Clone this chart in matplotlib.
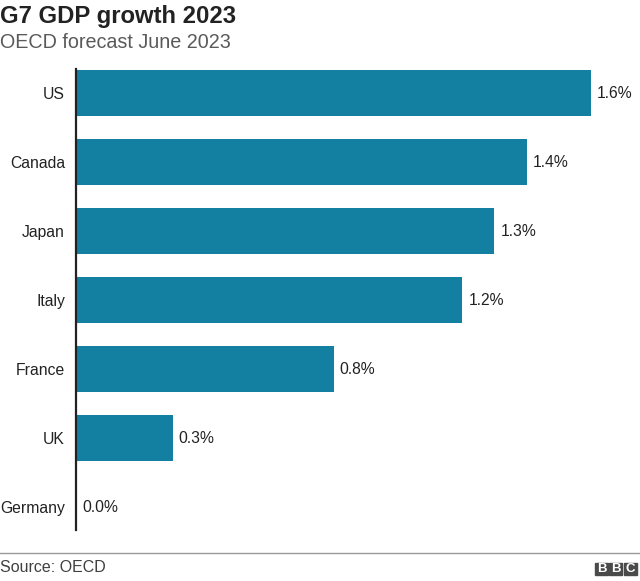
import matplotlib
matplotlib.use("Agg")
import matplotlib.pyplot as plt
from matplotlib.patches import Rectangle
from matplotlib.lines import Line2D

countries = ["US", "Canada", "Japan", "Italy", "France", "UK", "Germany"]
growth = [1.6, 1.4, 1.3, 1.2, 0.8, 0.3, 0.0]
value_labels = ["1.6%", "1.4%", "1.3%", "1.2%", "0.8%", "0.3%", "0.0%"]

plt.rcParams['font.family'] = ['Liberation Sans', 'DejaVu Sans']

W, H = 640, 581
fig = plt.figure(figsize=(W / 100, H / 100), dpi=100)

def fx(px):
    return px / W

def fy(py):
    return 1 - py / H

ax_left, ax_right = 76, 591
ax_top, ax_bot = 69, 530
ax = fig.add_axes([fx(ax_left), fy(ax_bot), fx(ax_right - ax_left), (ax_bot - ax_top) / H])

bar_color = "#1380A1"
ypos = list(range(len(countries)))
ax.barh(ypos, growth, height=0.667, color=bar_color, zorder=2)
ax.set_xlim(0, 1.6)
ax.set_ylim(6.33, -0.35)

for y, v, lab in zip(ypos, growth, value_labels):
    ax.annotate(lab, xy=(v, y), xytext=(4.5, 0), textcoords="offset points",
                ha="left", va="center", fontsize=11.3, color="#222222",
                annotation_clip=False)

ax.set_yticks(ypos)
ax.set_yticklabels(countries, fontsize=11.3, color="#222222")
ax.tick_params(axis="y", length=0, pad=8)
ax.set_xticks([])
for s in ["top", "right", "bottom"]:
    ax.spines[s].set_visible(False)
ax.spines["left"].set_color("#222222")
ax.spines["left"].set_linewidth(1.6)
ax.set_facecolor("none")

# titles
fig.text(fx(0), fy(16), "G7 GDP growth 2023", fontsize=17.2, fontweight="bold",
         color="#222222", ha="left", va="center")
fig.text(fx(0), fy(42), "OECD forecast June 2023", fontsize=14.2,
         color="#5a5a5a", ha="left", va="center")

# footer line
fig.add_artist(Line2D([0, 1], [fy(553), fy(553)], color="#999999", linewidth=1,
                      transform=fig.transFigure))
fig.text(fx(0), fy(567), "Source: OECD", fontsize=11.5, color="#404040",
         ha="left", va="center")

# BBC logo
for i, letter in enumerate("BBC"):
    x0 = 595 + i * 14.3
    fig.add_artist(Rectangle((fx(x0), fy(575)), fx(13), 12.5 / H, color="#4a4a4a",
                             transform=fig.transFigure))
    fig.text(fx(x0 + 6.5), fy(568.7), letter, fontsize=9.5, fontweight="bold",
             color="white", ha="center", va="center")

fig.savefig("out.png", dpi=100)
